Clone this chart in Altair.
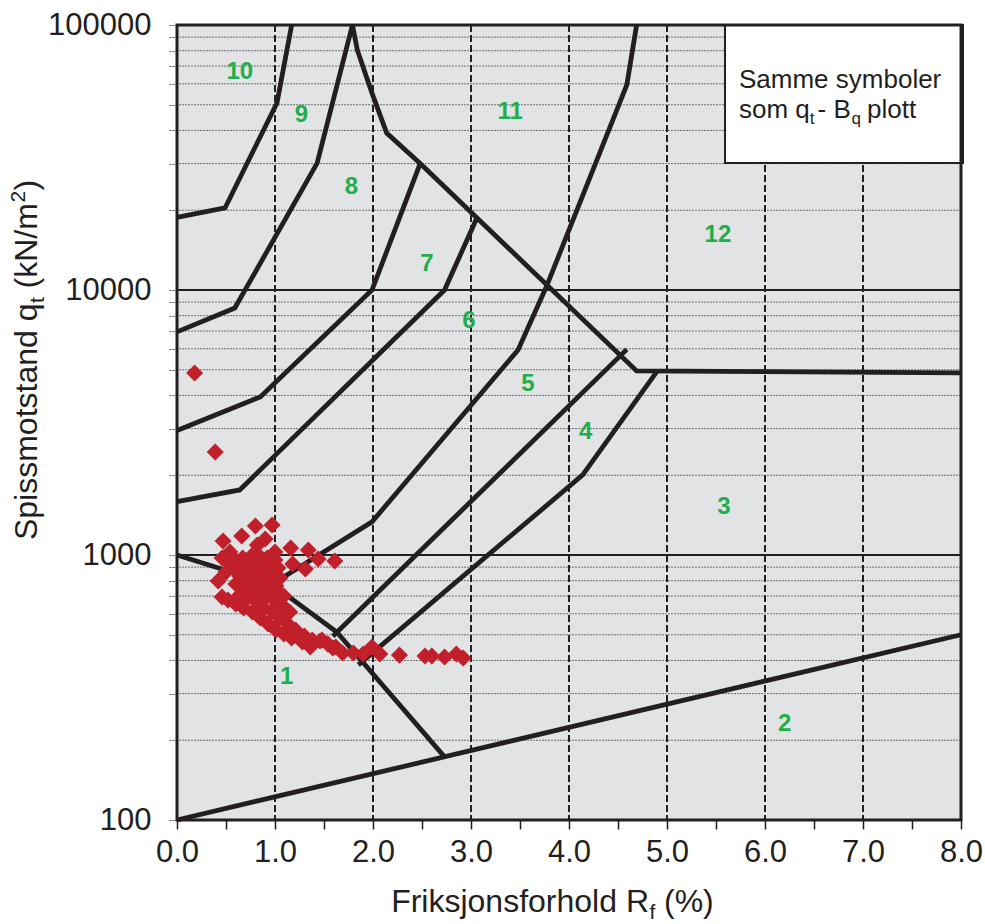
import altair as alt
import pandas as pd

# ---------------------------------------------------------------------------
# Classification chart: friction ratio Rf (%) vs. cone resistance qt (kN/m2)
# ---------------------------------------------------------------------------

FONT = "Liberation Sans"
INK = "#231f20"
RED = "#c1202b"
GREEN = "#1fae4b"
PLOT_BG = "#e1e3e5"

W, H = 784, 795  # plot area

# Zone boundaries (Rf in %, qt in kN/m2)
B_ZONE10_RF = [0.0, 0.49, 1.02, 1.17]
B_ZONE10_QT = [18800, 20400, 50800, 100000]
B_ZONE9_RF = [0.0, 0.59, 1.43, 1.79]
B_ZONE9_QT = [6950, 8550, 30100, 100000]
B_TOP_RF = [1.79, 1.84, 1.99, 2.14, 2.49, 4.69, 8.0]
B_TOP_QT = [100000, 80500, 55300, 39100, 29800, 4950, 4870]
B_ZONE8_RF = [0.0, 0.85, 1.99, 2.48]
B_ZONE8_QT = [2950, 3950, 10000, 29900]
B_ZONE7_RF = [0.0, 0.64, 2.73, 3.06]
B_ZONE7_QT = [1590, 1760, 10000, 18700]
B_ZONE6_RF = [0.97, 1.99, 3.48, 3.77, 4.59, 4.69]
B_ZONE6_QT = [775, 1334, 5940, 10300, 59400, 100000]
B_ZONE5_RF = [1.59, 4.59]
B_ZONE5_QT = [494, 5970]
B_ZONE4_RF = [1.85, 4.14, 4.90]
B_ZONE4_QT = [385, 2005, 4940]
B_ZONE1_RF = [0.0, 0.98, 1.63, 2.73]
B_ZONE1_QT = [1000, 770, 512, 173]
B_ZONE2_RF = [0.0, 8.0]
B_ZONE2_QT = [100, 500]

BOUNDARIES = [
    ("b10", B_ZONE10_RF, B_ZONE10_QT),
    ("b9", B_ZONE9_RF, B_ZONE9_QT),
    ("btop", B_TOP_RF, B_TOP_QT),
    ("b8", B_ZONE8_RF, B_ZONE8_QT),
    ("b7", B_ZONE7_RF, B_ZONE7_QT),
    ("b6", B_ZONE6_RF, B_ZONE6_QT),
    ("b5", B_ZONE5_RF, B_ZONE5_QT),
    ("b4", B_ZONE4_RF, B_ZONE4_QT),
    ("b1", B_ZONE1_RF, B_ZONE1_QT),
    ("b2", B_ZONE2_RF, B_ZONE2_QT),
]

# Zone numbers and their label positions
ZONE_NAMES = ["1", "2", "3", "4", "5", "6", "7", "8", "9", "10", "11", "12"]
ZONE_RF = [1.12, 6.20, 5.58, 4.17, 3.58, 2.98, 2.55, 1.78, 1.27, 0.64, 3.40, 5.52]
ZONE_QT = [347, 230, 1518, 2910, 4420, 7640, 12500, 24500, 45700, 66500, 47000, 16100]

# Measured CPT points
PTS_RF = [
    0.47, 0.66, 0.80, 0.97, 0.90, 0.82, 0.54, 0.46, 0.42, 0.46, 1.00, 1.16, 1.34,
    1.18, 1.31, 1.44, 1.61, 0.18, 0.39,
    0.59, 0.67, 0.76, 0.84, 0.92, 1.00,
    0.62, 0.70, 0.79, 0.87, 0.95, 1.03,
    0.64, 0.72, 0.81, 0.89, 0.97, 1.05,
    0.60, 0.68, 0.77, 0.85, 0.93, 1.01,
    0.50, 0.54, 0.72, 0.80, 0.88, 0.96,
    0.52, 0.60, 0.68, 0.77, 0.85, 0.93, 1.01, 1.09, 1.17,
    0.64, 0.72, 0.81, 0.89, 0.97, 1.05, 1.13, 1.21,
    0.74, 0.83, 0.91, 0.99, 1.07, 1.15,
    0.87, 0.95, 1.03, 1.09,
    1.30, 1.38, 1.46, 1.54, 1.62,
    1.28, 1.36, 1.48, 1.59, 1.69, 1.80, 1.90, 1.99, 2.07, 2.27, 2.53, 2.60, 2.73,
    2.85, 2.92,
]
PTS_QT = [
    1129, 1179, 1287, 1298, 1149, 1091, 1026, 974, 798, 694, 1026, 1063, 1044,
    925, 885, 966, 949, 4860, 2447,
    957, 974, 991, 991, 974, 957,
    893, 909, 917, 917, 909, 893,
    833, 848, 855, 855, 840, 819,
    777, 784, 791, 791, 784, 764,
    863, 925, 812, 823, 812, 800,
    676, 653, 631, 609, 578, 549, 521, 503, 486,
    706, 688, 665, 631, 609, 578, 549, 521,
    738, 725, 700, 676, 648, 609,
    751, 738, 725, 700,
    495, 478, 474, 461, 450,
    470, 450, 478, 446, 427, 427, 423, 450, 423, 419, 416, 416, 412,
    423, 409,
]

# Axis ticks and grid lines
X_TICKS = [i / 2 for i in range(17)]
X_GRID = [1, 2, 3, 4, 5, 6, 7]
Y_MAJOR = [1000, 10000]
Y_MINOR = [k * 10 ** d for d in (2, 3, 4) for k in range(2, 10)]
Y_TICKS = [k * 10 ** d for d in (2, 3, 4) for k in range(1, 10)] + [100000]

# ---------------------------------------------------------------------------
rows = []
for name, rf, qt in BOUNDARIES:
    for i, (a, b) in enumerate(zip(rf, qt)):
        rows.append({"line": name, "step": i, "rf": a, "qt": b})
lines_df = pd.DataFrame(rows)
zones_df = pd.DataFrame({"zone": ZONE_NAMES, "rf": ZONE_RF, "qt": ZONE_QT})
pts_df = pd.DataFrame({"rf": PTS_RF, "qt": PTS_QT})
ONE = pd.DataFrame({"k": [0]})

x_scale = alt.Scale(domain=[0, 8], nice=False, zero=False)
y_scale = alt.Scale(type="log", domain=[100, 100000], nice=False)

# The same axis definition is used in every layer so that they merge cleanly.
x_axis = alt.Axis(
    values=X_TICKS,
    labelExpr="datum.value % 1 == 0 ? format(datum.value, '.1f') : ''",
    title=None, grid=False, domain=False,
    tickSize=9, tickWidth=1.5, tickColor=INK,
    labelFont=FONT, labelFontSize=31, labelColor=INK, labelPadding=8,
    labelFlush=False, labelOverlap=False,
)
y_axis = alt.Axis(
    values=Y_TICKS,
    labelExpr=("datum.value == 100 || datum.value == 1000 || datum.value == 10000 "
               "|| datum.value == 100000 ? format(datum.value, 'd') : ''"),
    title=None, grid=False, domain=False,
    tickSize=9, tickWidth=1, tickColor="#555555", tickDash=[2, 1],
    labelFont=FONT, labelFontSize=31, labelColor=INK, labelPadding=17,
    labelFlush=False, labelOverlap=False,
)
X = alt.X("rf:Q", scale=x_scale, axis=x_axis)
Y = alt.Y("qt:Q", scale=y_scale, axis=y_axis)

# Grid: dotted minor lines, solid decade lines, dashed verticals
minor_grid = alt.Chart(pd.DataFrame({"qt": Y_MINOR})).mark_rule(
    color="#6e6e6e", strokeWidth=1, strokeDash=[2, 1]
).encode(y=Y)

major_grid = alt.Chart(pd.DataFrame({"qt": Y_MAJOR})).mark_rule(
    color=INK, strokeWidth=2
).encode(y=Y)

vert_grid = alt.Chart(pd.DataFrame({"rf": X_GRID})).mark_rule(
    color=INK, strokeWidth=2, strokeDash=[7, 3]
).encode(x=X)

boundaries = alt.Chart(lines_df).mark_line(color=INK, strokeWidth=4.8).encode(
    x=X, y=Y, detail="line:N", order="step:Q",
)

points = alt.Chart(pts_df).mark_point(
    shape="diamond", filled=True, size=290, color=RED, opacity=1, strokeWidth=0
).encode(x=X, y=Y)

zone_labels = alt.Chart(zones_df).mark_text(
    font=FONT, fontSize=24, fontWeight="bold", color=GREEN,
    align="center", baseline="middle",
).encode(x=X, y=Y, text="zone:N")

legend_box = alt.Chart(ONE).mark_rect(
    fill="white", stroke=INK, strokeWidth=2
).encode(x=alt.value(548), x2=alt.value(786), y=alt.value(0), y2=alt.value(138))

frame = alt.Chart(ONE).mark_rect(
    fillOpacity=0, stroke=INK, strokeWidth=3
).encode(x=alt.value(0), x2=alt.value(W), y=alt.value(0), y2=alt.value(H))


def piece(text, x, y, size, angle=0, align="left"):
    """A single run of text placed in plot pixel coordinates."""
    return alt.Chart(ONE).mark_text(
        text=text, font=FONT, fontSize=size, color=INK, angle=angle,
        align=align, baseline="alphabetic",
    ).encode(x=alt.value(x), y=alt.value(y))


# Legend text: "Samme symboler / som q_t - B_q plott"
lx, l1, l2 = 562, 63, 93
legend_text = [
    piece("Samme symboler", lx, l1, 26),
    piece("som q", lx, l2, 26),
    piece("t", lx + 70.8, l2 + 6, 17),
    piece("- B", lx + 78.5, l2, 26),
    piece("q", lx + 112.5, l2 + 6, 17),
    piece("plott", lx + 128, l2, 26),
]

# x-axis title: "Friksjonsforhold R_f (%)"
TS = 32          # title font size
SS = 21          # sub/superscript size
tx_end, tx_base = 472, 887
x_title = [
    piece("Friksjonsforhold R", tx_end, tx_base, TS, align="right"),
    piece("f", tx_end + 0.5, tx_base + 7, SS),
    piece("(%)", tx_end + 15, tx_base, TS),
]

# y-axis title (rotated): "Spissmotstand q_t (kN/m^2)"
ty_x = -140
ty_a = 278.5
y_title = [
    piece("Spissmotstand q", ty_x, ty_a, TS, angle=270, align="right"),
    piece("t", ty_x + 7, ty_a - 0.5, SS, angle=270),
    piece("(kN/m", ty_x, ty_a - 15, TS, angle=270),
    piece("2", ty_x - 12, ty_a - 101, SS, angle=270),
    piece(")", ty_x, ty_a - 113, TS, angle=270),
]

chart = alt.layer(
    minor_grid, vert_grid, major_grid, boundaries, points, zone_labels,
    legend_box, frame, *legend_text, *x_title, *y_title,
).properties(
    width=W, height=H,
    autosize=alt.AutoSizeParams(type="none"),
    padding={"left": 177, "top": 25, "right": 24, "bottom": 104},
    background="white",
).configure_view(fill=PLOT_BG, strokeWidth=0)

chart.save("out.html", embed_options={"renderer": "svg", "actions": False})
